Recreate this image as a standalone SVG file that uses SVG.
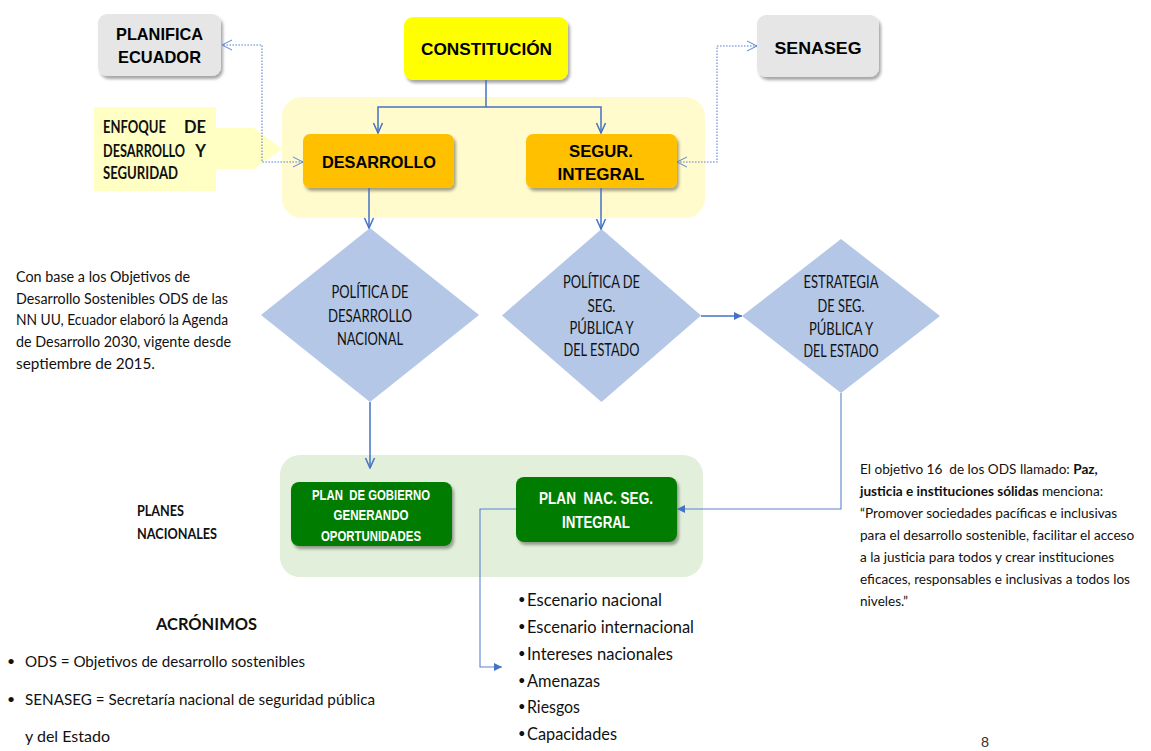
<svg xmlns="http://www.w3.org/2000/svg" width="1151" height="751" viewBox="0 0 1151 751">
<style>
.ab{font-family:"Liberation Sans",Arial,sans-serif;font-weight:bold;fill:#000}
.wb{font-family:"Liberation Sans",Arial,sans-serif;font-weight:bold;fill:#fff}
.cal{font-family:Lato,"Open Sans",sans-serif;fill:#111}
.calb{font-family:Lato,"Open Sans",sans-serif;font-weight:bold;fill:#111}
.conn{fill:none;stroke:#4472c4;stroke-width:1.5}
.thin{fill:none;stroke:#5b84cf;stroke-width:1.1}
.dot{fill:none;stroke:#5b84d6;stroke-width:1.1;stroke-dasharray:1.6 1.4}
.dia{fill:#b4c7e7}
</style>
<defs>
<filter id="sh" x="-10%" y="-10%" width="130%" height="140%">
<feDropShadow dx="2" dy="3" stdDeviation="1.5" flood-color="#000" flood-opacity="0.35"/>
</filter>
<marker id="openV" viewBox="0 0 12 12" refX="11" refY="6" markerWidth="12" markerHeight="12" markerUnits="userSpaceOnUse" orient="auto">
<path d="M1,1.5 L11,6 L1,10.5" fill="none" stroke="#4472c4" stroke-width="1.5"/>
</marker>
<marker id="fillA" viewBox="0 0 10 10" refX="9" refY="5" markerWidth="9" markerHeight="9" markerUnits="userSpaceOnUse" orient="auto">
<path d="M0,0.5 L9,5 L0,9.5 z" fill="#4472c4"/>
</marker>
<marker id="dotV" viewBox="0 0 12 12" refX="11" refY="6" markerWidth="12" markerHeight="12" markerUnits="userSpaceOnUse" orient="auto-start-reverse">
<path d="M1,1 L11,6 L1,11" fill="none" stroke="#5b84d6" stroke-width="1"/>
</marker>
</defs>
<rect width="1151" height="751" fill="#fff"/>

<g id="region-yellow"><rect x="282" y="97" width="423" height="121" rx="20" fill="#fffbcc"/></g>
<g id="region-green"><rect x="280" y="455" width="423" height="122" rx="20" fill="#e2efda"/></g>

<g id="enfoque">
<path d="M94,107 H216 V128 H254 L282,149 L254,169 H216 V191 H94 Z" fill="#ffffc4"/>
<text class="calb" font-size="16.5" x="103" y="133" textLength="63" lengthAdjust="spacingAndGlyphs">ENFOQUE</text>
<text class="calb" font-size="16.5" x="206" y="133" text-anchor="end">DE</text>
<text class="calb" font-size="16.5" x="103" y="157" textLength="82" lengthAdjust="spacingAndGlyphs">DESARROLLO</text>
<text class="calb" font-size="16.5" x="206" y="157" text-anchor="end">Y</text>
<text class="calb" font-size="16.5" x="103" y="179" textLength="75" lengthAdjust="spacingAndGlyphs">SEGURIDAD</text>
</g>

<g id="planifica">
<rect x="98" y="14" width="123" height="62" rx="9" fill="#e6e6e6" filter="url(#sh)"/>
<text class="ab" font-size="17" x="159.5" y="40" text-anchor="middle" textLength="87" lengthAdjust="spacingAndGlyphs">PLANIFICA</text>
<text class="ab" font-size="17" x="159.5" y="63" text-anchor="middle" textLength="83" lengthAdjust="spacingAndGlyphs">ECUADOR</text>
</g>

<g id="constitucion">
<rect x="404" y="17" width="164" height="63" rx="9" fill="#ffff00" filter="url(#sh)"/>
<text class="ab" font-size="17" x="486.5" y="55" text-anchor="middle" textLength="131" lengthAdjust="spacingAndGlyphs">CONSTITUCIÓN</text>
</g>

<g id="senaseg">
<rect x="757" y="15" width="122" height="62" rx="9" fill="#e6e6e6" filter="url(#sh)"/>
<text class="ab" font-size="17" x="818" y="54" text-anchor="middle" textLength="87" lengthAdjust="spacingAndGlyphs">SENASEG</text>
</g>

<g id="desarrollo">
<rect x="303" y="134" width="151" height="54" rx="7" fill="#ffc000" filter="url(#sh)"/>
<text class="ab" font-size="16.5" x="379" y="168" text-anchor="middle" textLength="114" lengthAdjust="spacingAndGlyphs">DESARROLLO</text>
</g>

<g id="segur">
<rect x="526" y="134" width="151" height="54" rx="7" fill="#ffc000" filter="url(#sh)"/>
<text class="ab" font-size="16.5" x="601" y="157" text-anchor="middle" textLength="64" lengthAdjust="spacingAndGlyphs">SEGUR.</text>
<text class="ab" font-size="16.5" x="601" y="180" text-anchor="middle" textLength="87" lengthAdjust="spacingAndGlyphs">INTEGRAL</text>
</g>

<g id="politica-desarrollo">
<polygon class="dia" points="370,228 479,315 370,402 261,315"/>
<text class="cal" font-size="17.5" x="370" y="298" text-anchor="middle" textLength="77" lengthAdjust="spacingAndGlyphs">POLÍTICA DE</text>
<text class="cal" font-size="17.5" x="370" y="322" text-anchor="middle" textLength="84" lengthAdjust="spacingAndGlyphs">DESARROLLO</text>
<text class="cal" font-size="17.5" x="370" y="345" text-anchor="middle" textLength="66" lengthAdjust="spacingAndGlyphs">NACIONAL</text>
</g>

<g id="politica-seg">
<polygon class="dia" points="601.5,229 701,315.5 601.5,402 502,315.5"/>
<text class="cal" font-size="17.5" x="601.5" y="288" text-anchor="middle" textLength="77" lengthAdjust="spacingAndGlyphs">POLÍTICA DE</text>
<text class="cal" font-size="17.5" x="601.5" y="312" text-anchor="middle" textLength="28" lengthAdjust="spacingAndGlyphs">SEG.</text>
<text class="cal" font-size="17.5" x="601.5" y="334" text-anchor="middle" textLength="64" lengthAdjust="spacingAndGlyphs">PÚBLICA Y</text>
<text class="cal" font-size="17.5" x="601.5" y="356" text-anchor="middle" textLength="76" lengthAdjust="spacingAndGlyphs">DEL ESTADO</text>
</g>

<g id="estrategia">
<polygon class="dia" points="841,239 940,316 841,393 742,316"/>
<text class="cal" font-size="17.5" x="841" y="288" text-anchor="middle" textLength="75" lengthAdjust="spacingAndGlyphs">ESTRATEGIA</text>
<text class="cal" font-size="17.5" x="841" y="312" text-anchor="middle" textLength="47" lengthAdjust="spacingAndGlyphs">DE SEG.</text>
<text class="cal" font-size="17.5" x="841" y="335" text-anchor="middle" textLength="64" lengthAdjust="spacingAndGlyphs">PÚBLICA Y</text>
<text class="cal" font-size="17.5" x="841" y="357" text-anchor="middle" textLength="75" lengthAdjust="spacingAndGlyphs">DEL ESTADO</text>
</g>

<g id="plan-gobierno">
<rect x="291" y="482" width="161" height="64" rx="8" fill="#037d03" filter="url(#sh)"/>
<text class="wb" font-size="14.5" x="371" y="500" text-anchor="middle" xml:space="preserve" textLength="118" lengthAdjust="spacingAndGlyphs">PLAN  DE GOBIERNO</text>
<text class="wb" font-size="14.5" x="371" y="520" text-anchor="middle" textLength="75" lengthAdjust="spacingAndGlyphs">GENERANDO</text>
<text class="wb" font-size="14.5" x="371" y="541" text-anchor="middle" textLength="100" lengthAdjust="spacingAndGlyphs">OPORTUNIDADES</text>
</g>

<g id="plan-nac">
<rect x="516" y="477" width="161" height="65" rx="8" fill="#037d03" filter="url(#sh)"/>
<text class="wb" font-size="16.5" x="596" y="504" text-anchor="middle" xml:space="preserve" textLength="114" lengthAdjust="spacingAndGlyphs">PLAN  NAC. SEG.</text>
<text class="wb" font-size="16.5" x="596" y="528" text-anchor="middle" textLength="68" lengthAdjust="spacingAndGlyphs">INTEGRAL</text>
</g>

<g id="connectors">
<path class="conn" d="M486,80 V107 H378 V133" marker-end="url(#openV)"/>
<path class="conn" d="M486,107 H601 V133" marker-end="url(#openV)"/>
<path class="conn" d="M369,188 V228" marker-end="url(#openV)"/>
<path class="conn" d="M601,188 V229" marker-end="url(#openV)"/>
<path class="conn" d="M370,402 V468" marker-end="url(#openV)"/>
<path class="conn" d="M701,316 H742" marker-end="url(#fillA)"/>
<path class="thin" d="M841,393 V509 H677" marker-end="url(#fillA)"/>
<path class="thin" d="M516,509 H480 V667 H502" marker-end="url(#fillA)"/>
<path class="dot" d="M303,162 H262 V45 H222" marker-start="url(#dotV)" marker-end="url(#dotV)"/>
<path class="dot" d="M677,162 H717 V46 H757" marker-start="url(#dotV)" marker-end="url(#dotV)"/>
</g>

<g id="nota-ods">
<text class="cal" font-size="14.5" x="16" y="282" textLength="174" lengthAdjust="spacingAndGlyphs">Con base a los Objetivos de</text>
<text class="cal" font-size="14.5" x="16" y="304" textLength="212" lengthAdjust="spacingAndGlyphs">Desarrollo Sostenibles ODS de las</text>
<text class="cal" font-size="14.5" x="16" y="325" textLength="212" lengthAdjust="spacingAndGlyphs">NN UU, Ecuador elaboró la Agenda</text>
<text class="cal" font-size="14.5" x="16" y="347" textLength="215" lengthAdjust="spacingAndGlyphs">de Desarrollo 2030, vigente desde</text>
<text class="cal" font-size="14.5" x="16" y="369" textLength="139" lengthAdjust="spacingAndGlyphs">septiembre de 2015.</text>
</g>

<g id="planes-nacionales">
<text class="calb" font-size="15" x="137" y="516" textLength="47" lengthAdjust="spacingAndGlyphs">PLANES</text>
<text class="calb" font-size="15" x="137" y="539" textLength="80" lengthAdjust="spacingAndGlyphs">NACIONALES</text>
</g>

<g id="objetivo-16">
<text class="cal" font-size="13.6" x="860" y="474" xml:space="preserve">El objetivo 16  de los ODS llamado: <tspan font-weight="bold">Paz,</tspan></text>
<text class="cal" font-size="13.6" x="860" y="496"><tspan font-weight="bold">justicia e instituciones sólidas</tspan> menciona:</text>
<text class="cal" font-size="13.6" x="860" y="518">“Promover sociedades pacíficas e inclusivas</text>
<text class="cal" font-size="13.6" x="860" y="540">para el desarrollo sostenible, facilitar el acceso</text>
<text class="cal" font-size="13.6" x="860" y="562">a la justicia para todos y crear instituciones</text>
<text class="cal" font-size="13.6" x="860" y="584">eficaces, responsables e inclusivas a todos los</text>
<text class="cal" font-size="13.6" x="860" y="606">niveles.”</text>
</g>

<g id="lista">
<text class="cal" font-size="13" x="518" y="604">•</text><text class="cal" font-size="18" x="527" y="606" textLength="135" lengthAdjust="spacingAndGlyphs">Escenario nacional</text>
<text class="cal" font-size="13" x="518" y="631">•</text><text class="cal" font-size="18" x="527" y="633" textLength="167" lengthAdjust="spacingAndGlyphs">Escenario internacional</text>
<text class="cal" font-size="13" x="518" y="658">•</text><text class="cal" font-size="18" x="527" y="660" textLength="146" lengthAdjust="spacingAndGlyphs">Intereses nacionales</text>
<text class="cal" font-size="13" x="518" y="685">•</text><text class="cal" font-size="18" x="527" y="687" textLength="73" lengthAdjust="spacingAndGlyphs">Amenazas</text>
<text class="cal" font-size="13" x="518" y="711">•</text><text class="cal" font-size="18" x="527" y="713" textLength="53" lengthAdjust="spacingAndGlyphs">Riesgos</text>
<text class="cal" font-size="13" x="518" y="738">•</text><text class="cal" font-size="18" x="527" y="740" textLength="90" lengthAdjust="spacingAndGlyphs">Capacidades</text>
</g>

<g id="acronimos">
<text class="calb" font-size="17" x="156" y="630" textLength="101" lengthAdjust="spacingAndGlyphs">ACRÓNIMOS</text>
<text class="cal" font-size="14" x="7" y="666">•</text>
<text class="cal" font-size="16" x="25" y="667" textLength="280" lengthAdjust="spacingAndGlyphs">ODS = Objetivos de desarrollo sostenibles</text>
<text class="cal" font-size="14" x="7" y="704">•</text>
<text class="cal" font-size="16" x="25" y="705" textLength="350" lengthAdjust="spacingAndGlyphs">SENASEG = Secretaría nacional de seguridad pública</text>
<text class="cal" font-size="16" x="25" y="742" textLength="85" lengthAdjust="spacingAndGlyphs">y del Estado</text>
</g>

<g id="pagina">
<text font-family="Liberation Sans, Arial, sans-serif" font-size="15" fill="#333" x="981" y="747" textLength="8" lengthAdjust="spacingAndGlyphs">8</text>
</g>
</svg>
